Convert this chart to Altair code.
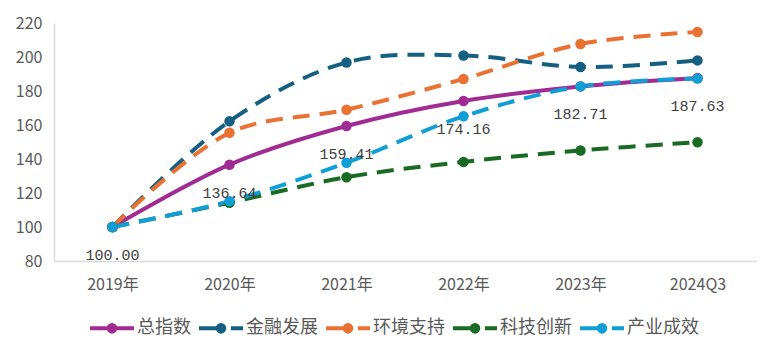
import altair as alt
import pandas as pd

periods = ["2019年", "2020年", "2021年", "2022年", "2023年", "2024Q3"]
series_names = ["总指数", "金融发展", "环境支持", "科技创新", "产业成效"]
colors = ["#A02B93", "#156082", "#E97132", "#196B24", "#0F9ED5"]

total_vals = [100.00, 136.64, 159.41, 174.16, 182.71, 187.63]
finance_vals = [100.0, 162.2, 196.8, 200.9, 194.1, 198.0]
environment_vals = [100.0, 155.4, 169.0, 187.1, 207.6, 214.7]
tech_vals = [100.0, 114.3, 129.3, 138.3, 145.0, 149.9]
industry_vals = [100.0, 115.2, 137.8, 165.1, 182.7, 187.3]

all_vals = [total_vals, finance_vals, environment_vals, tech_vals, industry_vals]
rows = []
for name, vals in zip(series_names, all_vals):
    for p, v in zip(periods, vals):
        rows.append({"period": p, "series": name, "value": v})
df = pd.DataFrame(rows)

circle = "M-0.15,0A0.15,0.15,0,1,0,0.15,0A0.15,0.15,0,1,0,-0.15,0Z"
solid_sym = "M-1,0H1" + circle
dash_sym = "M-1,0H0.2M0.45,0H1" + circle
shapes = [solid_sym] + [dash_sym] * 4

color_scale = alt.Scale(domain=series_names, range=colors)
legend = alt.Legend(
    title=None, orient="none", direction="horizontal", columns=5,
    legendX=34, legendY=281, symbolSize=1936, symbolStrokeWidth=4,
    labelFont="Noto Sans CJK SC", labelFontSize=18, labelColor="#595959",
    labelOffset=1, columnPadding=0, padding=0,
)

x_enc = alt.X("period:N", sort=periods, scale=alt.Scale(paddingInner=0, paddingOuter=0.5),
              axis=alt.Axis(title=None, labelAngle=0, labelPadding=15))
y_enc = alt.Y("value:Q", scale=alt.Scale(domain=[80, 220], nice=False, zero=False),
              axis=alt.Axis(title=None, values=list(range(80, 221, 20)), labelPadding=12))

base = alt.Chart(df).encode(x=x_enc, y=y_enc)

legend_layer = base.transform_filter("false").mark_point(
    filled=True, size=1936, opacity=1, strokeWidth=4
).encode(
    fill=alt.Fill("series:N", scale=color_scale, legend=legend),
    stroke=alt.Stroke("series:N", scale=color_scale, legend=legend),
    shape=alt.Shape("series:N", scale=alt.Scale(domain=series_names, range=shapes), legend=legend),
)

line_layers = []
point_layers = []
for i, (name, col) in enumerate(zip(series_names, colors)):
    sub = base.transform_filter(alt.datum.series == name)
    line_kwargs = dict(interpolate="catmull-rom", strokeWidth=4, color=col)
    if i > 0:
        line_kwargs["strokeDash"] = [17, 10]
    line_layers.append(sub.mark_line(**line_kwargs))
    point_layers.append(sub.mark_point(filled=True, size=110, opacity=1, color=col))

labels = base.transform_filter(alt.datum.series == "总指数").mark_text(
    font="Liberation Mono", fontSize=15, color="#404040", dy=28, baseline="middle"
).encode(text=alt.Text("value:Q", format=".2f"))

chart = alt.layer(legend_layer, *line_layers, *point_layers, labels).properties(
    width=702, height=238,
    autosize=alt.AutoSizeParams(type="none"),
    padding={"left": 54, "top": 23, "right": 24, "bottom": 95},
).configure_view(stroke=None).configure_axis(
    grid=False, ticks=False, domainColor="#d9d9d9", domainWidth=1.5,
    labelFont="Noto Sans CJK SC", labelFontSize=16, labelColor="#595959",
)

chart.save("out.html", embed_options={"renderer": "svg", "actions": False})
